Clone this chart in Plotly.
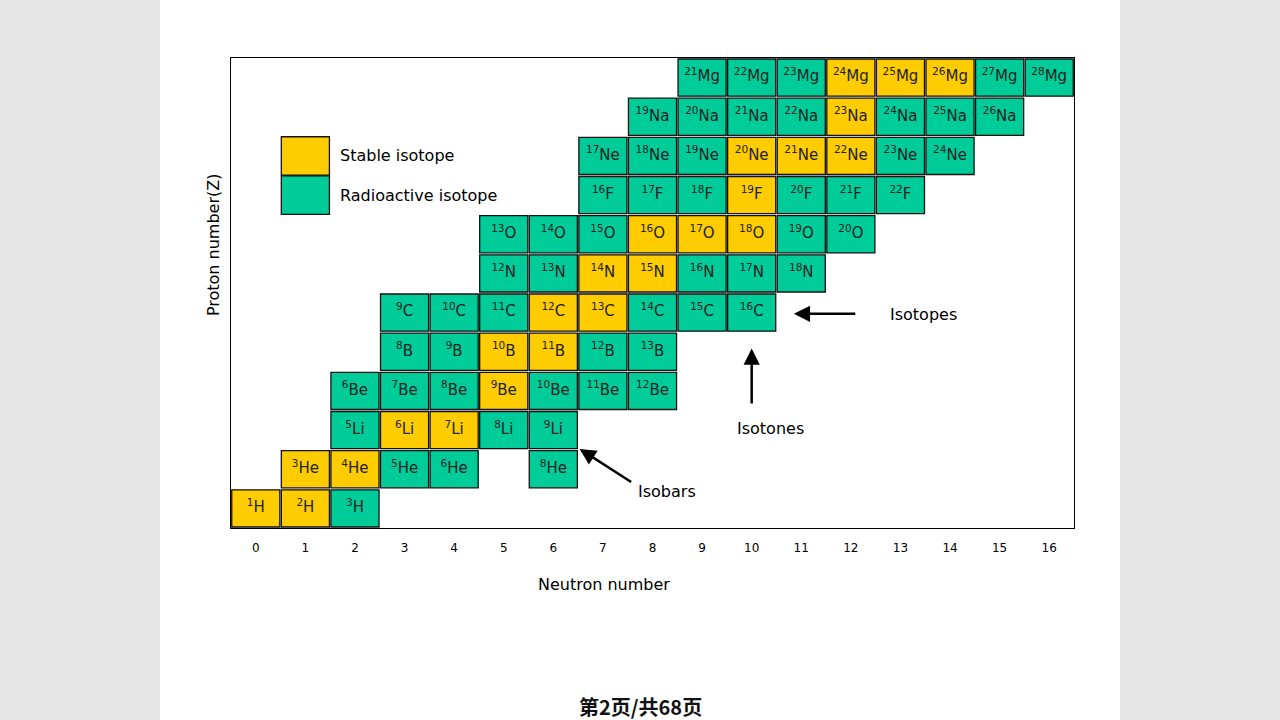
import plotly.graph_objects as go

# ---- data ----
symbols = ["H", "He", "Li", "Be", "B", "C", "N", "O", "F", "Ne", "Na", "Mg"]
# per element (Z = index+1): list of neutron numbers and stability flags
neutrons = [
    [0, 1, 2],
    [1, 2, 3, 4, 6],
    [2, 3, 4, 5, 6],
    [2, 3, 4, 5, 6, 7, 8],
    [3, 4, 5, 6, 7, 8],
    [3, 4, 5, 6, 7, 8, 9, 10],
    [5, 6, 7, 8, 9, 10, 11],
    [5, 6, 7, 8, 9, 10, 11, 12],
    [7, 8, 9, 10, 11, 12, 13],
    [7, 8, 9, 10, 11, 12, 13, 14],
    [8, 9, 10, 11, 12, 13, 14, 15],
    [9, 10, 11, 12, 13, 14, 15, 16],
]
stable = [
    [1, 1, 0],
    [1, 1, 0, 0, 0],
    [0, 1, 1, 0, 0],
    [0, 0, 0, 1, 0, 0, 0],
    [0, 0, 1, 1, 0, 0],
    [0, 0, 0, 1, 1, 0, 0, 0],
    [0, 0, 1, 1, 0, 0, 0],
    [0, 0, 0, 1, 1, 1, 0, 0],
    [0, 0, 0, 1, 0, 0, 0],
    [0, 0, 0, 1, 1, 1, 0, 0],
    [0, 0, 0, 0, 1, 0, 0, 0],
    [0, 0, 0, 1, 1, 1, 0, 0],
]
tick_vals = list(range(17))
tick_text = [str(v) for v in tick_vals]
legend_labels = ["Stable isotope", "Radioactive isotope"]

STABLE_C = "#FFCC00"
RADIO_C = "#00CC99"
FONT = "DejaVu Sans, Verdana, sans-serif"

fig = go.Figure()
shapes = []

# page background (grey sides)
for x0, x1 in [(-0.30, -0.0842), (1.0546, 1.30)]:
    shapes.append(dict(type="rect", xref="paper", yref="paper", x0=x0, x1=x1,
                       y0=-0.45, y1=1.15, fillcolor="#E5E5E5", line_width=0, layer="below"))

xs, ys, labels = [], [], []
for zi, sym in enumerate(symbols):
    Z = zi + 1
    for N, st in zip(neutrons[zi], stable[zi]):
        shapes.append(dict(type="rect", xref="x", yref="y", layer="below",
                           x0=N - 0.485, x1=N + 0.485, y0=Z - 0.475, y1=Z + 0.475,
                           fillcolor=STABLE_C if st else RADIO_C,
                           line=dict(color="#111111", width=1.3)))
        xs.append(N)
        ys.append(Z)
        labels.append(f"<sup>{Z + N}</sup>{sym}")

# legend boxes
leg_x = 1
leg_y = [10, 9]
for ly, col in zip(leg_y, [STABLE_C, RADIO_C]):
    shapes.append(dict(type="rect", xref="x", yref="y", layer="below",
                       x0=leg_x - 0.485, x1=leg_x + 0.485, y0=ly - 0.49, y1=ly + 0.49,
                       fillcolor=col, line=dict(color="#111111", width=1.3)))

fig.add_trace(go.Scatter(x=xs, y=ys, mode="text", text=labels,
                         textfont=dict(family=FONT, size=15, color="#222222"),
                         hoverinfo="skip", showlegend=False))

annotations = []
for ly, txt in zip(leg_y, legend_labels):
    annotations.append(dict(x=leg_x + 0.66, y=ly, xref="x", yref="y", text=txt,
                            showarrow=False, xanchor="left", yanchor="middle",
                            font=dict(family=FONT, size=16, color="#000")))

# arrows
arrows = [
    dict(x=10.85, y=5.97, ax=12.12, ay=5.97),   # isotopes
    dict(x=10.0, y=5.08, ax=10.0, ay=3.64),     # isotones
    dict(x=6.53, y=2.52, ax=7.6, ay=1.65),      # isobars
]
for a in arrows:
    annotations.append(dict(x=a["x"], y=a["y"], ax=a["ax"], ay=a["ay"], xref="x", yref="y",
                            axref="x", ayref="y", text="", showarrow=True,
                            arrowhead=2, arrowsize=1.3, arrowwidth=2.5, arrowcolor="#000"))
for txt, x, y in [("Isotopes", 13.47, 5.95), ("Isotones", 10.37, 3.03), ("Isobars", 8.29, 1.42)]:
    annotations.append(dict(x=x, y=y, xref="x", yref="y", text=txt, showarrow=False,
                            xanchor="center", yanchor="middle",
                            font=dict(family=FONT, size=16, color="#000")))

# axis titles
annotations.append(dict(x=0.4425, y=-0.121, xref="paper", yref="paper", text="Neutron number",
                        xanchor="center", yanchor="middle",
                        showarrow=False, font=dict(family=FONT, size=16, color="#000")))
annotations.append(dict(x=-0.0214, y=0.604, xref="paper", yref="paper", text="Proton number(Z)",
                        xanchor="center", yanchor="middle",
                        showarrow=False, textangle=-90, font=dict(family=FONT, size=16, color="#000")))
# footer
annotations.append(dict(x=0.4852, y=-0.379, xref="paper", yref="paper", text="<b>第2页/共68页</b>",
                        xanchor="center", yanchor="middle",
                        showarrow=False, font=dict(family="Noto Sans CJK SC", size=20, color="#111")))

fig.update_layout(
    width=1280, height=720,
    margin=dict(l=231, r=206, t=58, b=192),
    paper_bgcolor="white", plot_bgcolor="white",
    shapes=shapes, annotations=annotations, showlegend=False,
    xaxis=dict(range=[-0.5, 16.5], tickvals=tick_vals, ticktext=tick_text,
               showgrid=False, zeroline=False, showline=True, mirror=True,
               linecolor="#000", linewidth=1, ticks="", ticklabelstandoff=9,
               tickfont=dict(family=FONT, size=12, color="#000")),
    yaxis=dict(range=[0.5, 12.5], showticklabels=False, showgrid=False, zeroline=False,
               showline=True, mirror=True, linecolor="#000", linewidth=1, ticks=""),
)

fig.write_html("out.html", config={"displayModeBar": False},
               post_script="document.body.style.margin='0';")
